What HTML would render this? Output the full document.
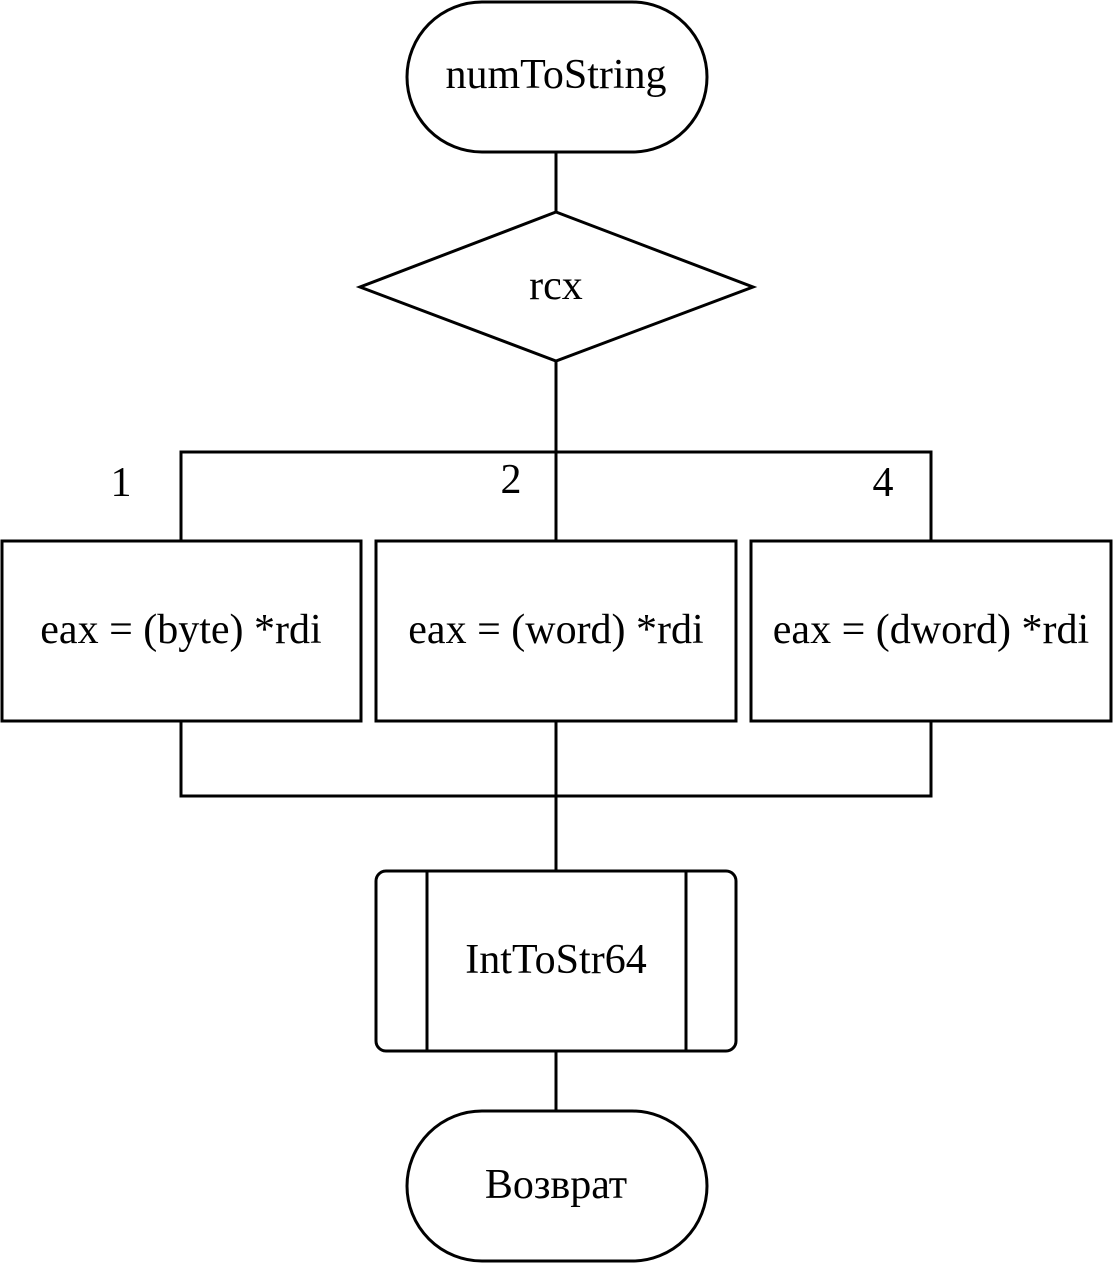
<!DOCTYPE html>
<html><head><meta charset="utf-8"><style>
html,body{margin:0;padding:0;background:#fff;}
svg{display:block;}
text{font-family:"Liberation Serif","Noto Serif CJK SC",serif;font-size:42px;fill:#000;}
</style></head><body>
<svg width="1113" height="1263" viewBox="0 0 1113 1263" xmlns="http://www.w3.org/2000/svg">
<g fill="none" stroke="#000" stroke-width="3">
<rect x="407" y="2" width="300" height="150" rx="75" ry="75" fill="#fff"/>
<line x1="556" y1="152" x2="556" y2="212"/>
<polygon points="556,212 753,287 556,361 360,287" fill="#fff"/>
<line x1="556" y1="361" x2="556" y2="452"/>
<polyline points="181,541 181,452 931,452 931,541"/>
<line x1="556" y1="452" x2="556" y2="541"/>
<rect x="2" y="541" width="359" height="180" fill="#fff"/>
<rect x="376" y="541" width="360" height="180" fill="#fff"/>
<rect x="751" y="541" width="360" height="180" fill="#fff"/>
<polyline points="181,721 181,796 931,796 931,721"/>
<line x1="556" y1="721" x2="556" y2="871"/>
<rect x="376" y="871" width="360" height="180" rx="10" ry="10" fill="#fff"/>
<line x1="427" y1="871" x2="427" y2="1051"/>
<line x1="686" y1="871" x2="686" y2="1051"/>
<line x1="556" y1="1051" x2="556" y2="1111"/>
<rect x="407" y="1111" width="300" height="150" rx="75" ry="75" fill="#fff"/>
</g>
<g text-anchor="middle" dominant-baseline="central">
<text x="556" y="75">numToString</text>
<text x="556" y="286">rcx</text>
<text x="121" y="483">1</text>
<text x="511" y="480">2</text>
<text x="883" y="483">4</text>
<text x="181" y="630">eax = (byte) *rdi</text>
<text x="556" y="630">eax = (word) *rdi</text>
<text x="931" y="630">eax = (dword) *rdi</text>
<text x="556" y="960">IntToStr64</text>
<text x="556" y="1185">Возврат</text>
</g>
</svg>
</body></html>
